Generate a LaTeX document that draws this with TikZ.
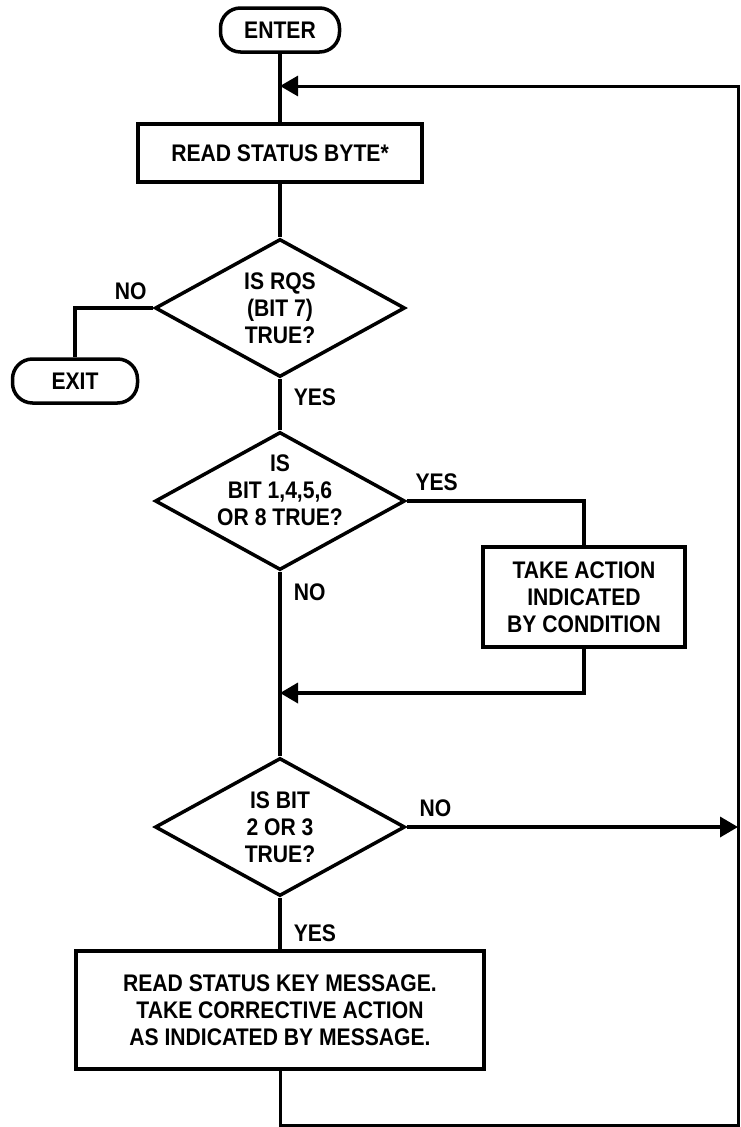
\documentclass[tikz,border=0pt]{standalone}
\usepackage{fontspec}
\setmainfont{Liberation Sans}[FakeStretch=0.88]
\usetikzlibrary{shapes.geometric,arrows.meta,positioning}

\begin{document}
\begin{tikzpicture}[
  x=1pt, y=-1pt,
  every node/.style={font=\fontsize{24}{27}\selectfont\bfseries},
  term/.style={rectangle, draw, line width=3.5pt, rounded corners=20pt,
               minimum width=#1, minimum height=44pt, inner sep=0pt},
  box/.style={rectangle, draw, line width=3.5pt, minimum width=#1,
              align=center, inner sep=4pt},
  test/.style={diamond, draw, line width=3.5pt, minimum width=250pt,
               minimum height=138pt, aspect=1.8, inner sep=-4pt, align=center},
  line/.style={line width=3.5pt},
  arrow/.style={line width=3.5pt, -{Triangle[length=18pt, width=20pt]}},
  tag/.style={inner sep=0pt},
  node distance=51.5pt
]
  \useasboundingbox (0,0) rectangle (741,1127);

  \node[term=119pt] (enter) at (280,30) {ENTER};
  \node[box=284pt, minimum height=58pt, below=68.5pt of enter] (read) {READ STATUS BYTE*};
  \node[test, below=53.5pt of read] (rqs) {IS RQS\\(BIT 7)\\TRUE?};
  \node[test, below=of rqs, text depth=22pt, inner ysep=-13pt] (bits) {IS\\BIT 1,4,5,6\\OR 8 TRUE?};
  \node[test, below=184.5pt of bits] (key) {IS BIT\\2 OR 3\\TRUE?};
  \node[box=408pt, minimum height=118pt, below=of key] (msg)
    {READ STATUS KEY MESSAGE.\\TAKE CORRECTIVE ACTION\\AS INDICATED BY MESSAGE.};
  \node[term=125pt] (exit) at (75,381) {EXIT};
  \node[box=202pt, minimum height=100pt] (act) at (584,597) {TAKE ACTION\\INDICATED\\BY CONDITION};

  % points where the loop lines meet
  \coordinate (jointop) at (280,86);
  \coordinate (looptop) at (738,86);
  \coordinate (loopbot) at (738,1125);
  \coordinate (sidein) at (key.east -| loopbot);
  \coordinate (merge) at (280,693);

  \draw[line] (enter) -- (read);
  \draw[line] (read) -- (rqs);
  \draw[line] (rqs.west) -| node[tag, at start, above left=7pt and 5pt]{NO} (exit);
  \draw[line] (rqs) -- node[tag, pos=0.35, right=12pt]{YES} (bits);
  \draw[line] (bits.east) -| node[tag, at start, above right=9pt and 7pt]{YES} (act);
  \draw[arrow] (act.south) |- (merge);
  \draw[line] (bits) -- node[tag, at start, below right=10pt and 12pt]{NO} (key);
  \draw[arrow] (key.east) -- node[tag, at start, above right=9pt and 11pt]{NO} (sidein);
  \draw[line] (key) -- node[tag, pos=0.69, right=12pt]{YES} (msg);
  \draw[arrow, line width=3pt] (msg.south) |- (loopbot) -- (looptop) -- (jointop);
\end{tikzpicture}
\end{document}
